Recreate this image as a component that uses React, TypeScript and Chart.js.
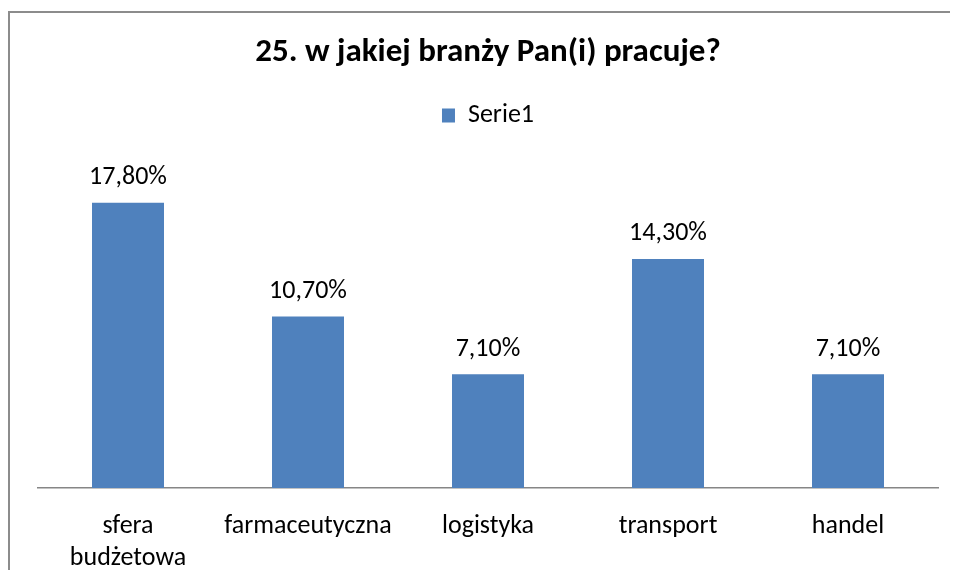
import React, { useEffect, useRef } from "react";
import { Chart, registerables } from "chart.js";

Chart.register(...registerables);

const categories: (string | string[])[] = [
  ["sfera", "budżetowa"],
  "farmaceutyczna",
  "logistyka",
  "transport",
  "handel",
];
const values: number[] = [17.8, 10.7, 7.1, 14.3, 7.1];
const seriesName = "Serie1";
const titleText = "25. w jakiej branży Pan(i) pracuje?";

const FONT = '"Carlito", Lato, "Open Sans", sans-serif';
const BAR = "#4F81BD";

const dataLabels = {
  id: "dataLabels",
  afterDatasetsDraw(chart: any) {
    const ctx = chart.ctx;
    const meta = chart.getDatasetMeta(0);
    ctx.save();
    ctx.font = `26px ${FONT}`;
    ctx.fillStyle = "#000";
    ctx.textAlign = "center";
    ctx.textBaseline = "middle";
    meta.data.forEach((el: any, i: number) => {
      const v = chart.data.datasets[0].data[i] as number;
      const txt = v.toFixed(2).replace(".", ",") + "%";
      ctx.fillText(txt, el.x, el.y - 25);
    });
    ctx.restore();
  },
};

export default function App() {
  const ref = useRef<HTMLCanvasElement>(null);
  useEffect(() => {
    if (!ref.current) return;
    const chart = new Chart(ref.current, {
      type: "bar",
      data: {
        labels: categories,
        datasets: [
          {
            label: seriesName,
            data: values,
            backgroundColor: BAR,
            categoryPercentage: 1,
            barPercentage: 0.4,
          },
        ],
      },
      options: {
        animation: false,
        responsive: false,
        maintainAspectRatio: false,
        layout: { padding: { left: 30, right: 12, top: 0, bottom: 0 } },
        plugins: {
          title: {
            display: true,
            text: titleText,
            color: "#000",
            font: { family: FONT, size: 33, weight: "bold", lineHeight: 1.2 },
            padding: { top: 25, bottom: 10 },
          },
          subtitle: {
            display: true,
            text: "",
            position: "top",
            weight: 500,
            font: { family: FONT, size: 10, lineHeight: 1 },
            padding: { top: 19, bottom: 0 },
          },
          legend: {
            display: true,
            position: "top",
            labels: {
              color: "#000",
              font: { family: FONT, size: 26 },
              boxWidth: 13,
              boxHeight: 14,
              padding: 20,
            },
          },
          tooltip: { enabled: false },
        },
        scales: {
          x: {
            grid: { display: false, drawTicks: false },
            border: { display: true, color: "#868686", width: 1.5 },
            ticks: {
              color: "#000",
              font: { family: FONT, size: 26, lineHeight: 1.23 },
              padding: 23,
              maxRotation: 0,
              autoSkip: false,
            },
            afterFit: (s: any) => {
              s.height = 82;
            },
          },
          y: {
            display: false,
            min: 0,
            max: 20,
          },
        },
      },
      plugins: [dataLabels],
    });
    return () => chart.destroy();
  }, []);

  return (
    <div style={{ position: "relative", width: 942, height: 562, overflow: "visible" }}>
      <div style={{ position: "absolute", left: 0, top: 0, width: 950, height: 562, overflow: "hidden" }}>
        <div
          style={{
            position: "absolute",
            left: 0,
            top: 3,
            width: 947,
            height: 620,
            border: "2px solid #8c8c8c",
            boxSizing: "border-box",
          }}
        />
      </div>
      <canvas
        ref={ref}
        width={942}
        height={562}
        style={{ position: "absolute", left: 0, top: 0, width: 942, height: 562 }}
      />
    </div>
  );
}
